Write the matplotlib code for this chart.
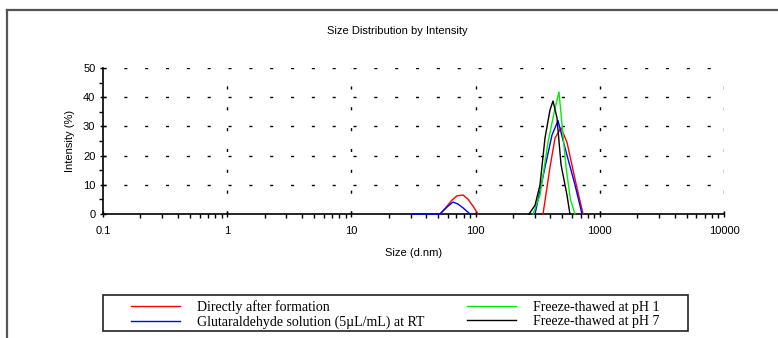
import matplotlib
matplotlib.use("Agg")
import matplotlib.pyplot as plt
from matplotlib.lines import Line2D
from matplotlib.patches import Rectangle
from matplotlib.ticker import LogLocator, NullFormatter, FixedLocator

plt.rcParams['font.family'] = ['Liberation Sans', 'DejaVu Sans']
plt.rcParams['lines.scale_dashes'] = False

NaN = float("nan")

# ---- data ----
red_size = [51.7, 58.9, 64.6, 70.8, 79.2, 86.9, 95.3, 104.5, NaN, 349, 397, 436, 487, 544, 631, 733]
red_val  = [0, 2.7, 4.8, 6.2, 6.5, 5.1, 2.7, 0, NaN, 0, 16, 26, 29.5, 24.6, 12, 0]

blue_size = [31.3, 51.7, 58.9, 65.8, 72.1, 79.2, 90.2, NaN, 301, 362, 412, 461, 525, 631, 719]
blue_val  = [0, 0, 2.4, 4.1, 3.4, 2.1, 0, NaN, 0, 16, 27, 32, 22.6, 10, 0]

green_size = [290, 330, 383, 430, 469, 535, 580, 631]
green_val  = [0, 6.5, 24.6, 35, 41.8, 16, 5, 0]

black_size = [269, 301, 330, 362, 397, 420, 452, 487, 544, 575]
black_val  = [0, 3, 10, 26, 35.6, 38.7, 33, 17, 6.5, 0]

labels = ["Directly after formation",
          "Glutaraldehyde solution (5\u00b5L/mL) at RT",
          "Freeze-thawed at pH 1",
          "Freeze-thawed at pH 7"]
colors = ["#ff0000", "#0000ff", "#00ee00", "#000000"]

xticks = [0.1, 1, 10, 100, 1000, 10000]
xticklabels = ["0.1", "1", "10", "100", "1000", "10000"]
yticks = [0, 10, 20, 30, 40, 50]

W, H = 778, 338
fig = plt.figure(figsize=(W / 100, H / 100), dpi=100)
fig.patch.set_facecolor("white")

# outer frame (left and top edges)
fig.add_artist(Line2D([7 / W, 7 / W], [0, 1 - 10 / H], color="#555555", lw=1.6,
                      transform=fig.transFigure))
fig.add_artist(Line2D([7 / W, 1], [1 - 10 / H, 1 - 10 / H], color="#555555", lw=1.6,
                      transform=fig.transFigure))

ax = fig.add_axes([103 / W, 1 - 214 / H, (724 - 103) / W, (214 - 68) / H])
series = [(red_size, red_val), (blue_size, blue_val), (green_size, green_val), (black_size, black_val)]
handles = []
for (sx, sy), c, lab in zip(series, colors, labels):
    h, = ax.plot(sx, sy, color=c, lw=1.0, label=lab, zorder=3, clip_on=False)
    handles.append(h)

ax.set_xscale("log")
ax.set_xlim(0.1, 10000)
ax.set_ylim(0, 50)
ax.set_xticks(xticks)
ax.set_xticklabels(xticklabels)
ax.xaxis.set_minor_locator(LogLocator(base=10, subs=[2, 3, 4, 5, 6, 7, 8, 9], numticks=20))
ax.xaxis.set_minor_formatter(NullFormatter())
ax.set_yticks(yticks)
ax.yaxis.set_minor_locator(FixedLocator([5, 15, 25, 35, 45]))

for s in ["top", "right"]:
    ax.spines[s].set_visible(False)
for s in ["left", "bottom"]:
    ax.spines[s].set_linewidth(1.2)
    ax.spines[s].set_color("black")

ax.tick_params(axis="both", which="major", direction="inout", length=5, width=1.0,
               labelsize=8, colors="black", pad=3)
ax.tick_params(axis="both", which="minor", direction="out", length=3, width=1.0)
ax.tick_params(axis="x", which="major", pad=6)

# dotted grid
for y in yticks[1:]:
    ax.axhline(y, color="black", lw=1.0, dashes=(2.2, 12.8), zorder=0)
for xv in xticks[1:]:
    ax.axvline(xv, color="black", lw=1.0, dashes=(2.2, 12.8), zorder=0)

ax.set_xlabel("Size (d.nm)", fontsize=8, labelpad=9)
ax.set_ylabel("Intensity (%)", fontsize=8, labelpad=6)
fig.text(397 / W, 1 - 31 / H, "Size Distribution by Intensity", fontsize=8,
         ha="center", va="center")

# legend box
fig.add_artist(Rectangle((103 / W, 1 - 331 / H), (688 - 103) / W, (331 - 295) / H,
                         transform=fig.transFigure, fill=False, ec="#222222", lw=1.2))
fs = 10
leg = fig.legend(handles, labels, loc="upper left",
                 bbox_to_anchor=(131 / W, 1 - 300 / H),
                 ncol=2, frameon=False, borderaxespad=0, borderpad=0,
                 handlelength=35.3 / fs, handletextpad=12.0 / fs,
                 columnspacing=31.0 / fs, labelspacing=0.1,
                 prop={"family": ["Liberation Serif", "DejaVu Serif"], "size": fs})

fig.savefig("out.png", dpi=100, facecolor="white")
